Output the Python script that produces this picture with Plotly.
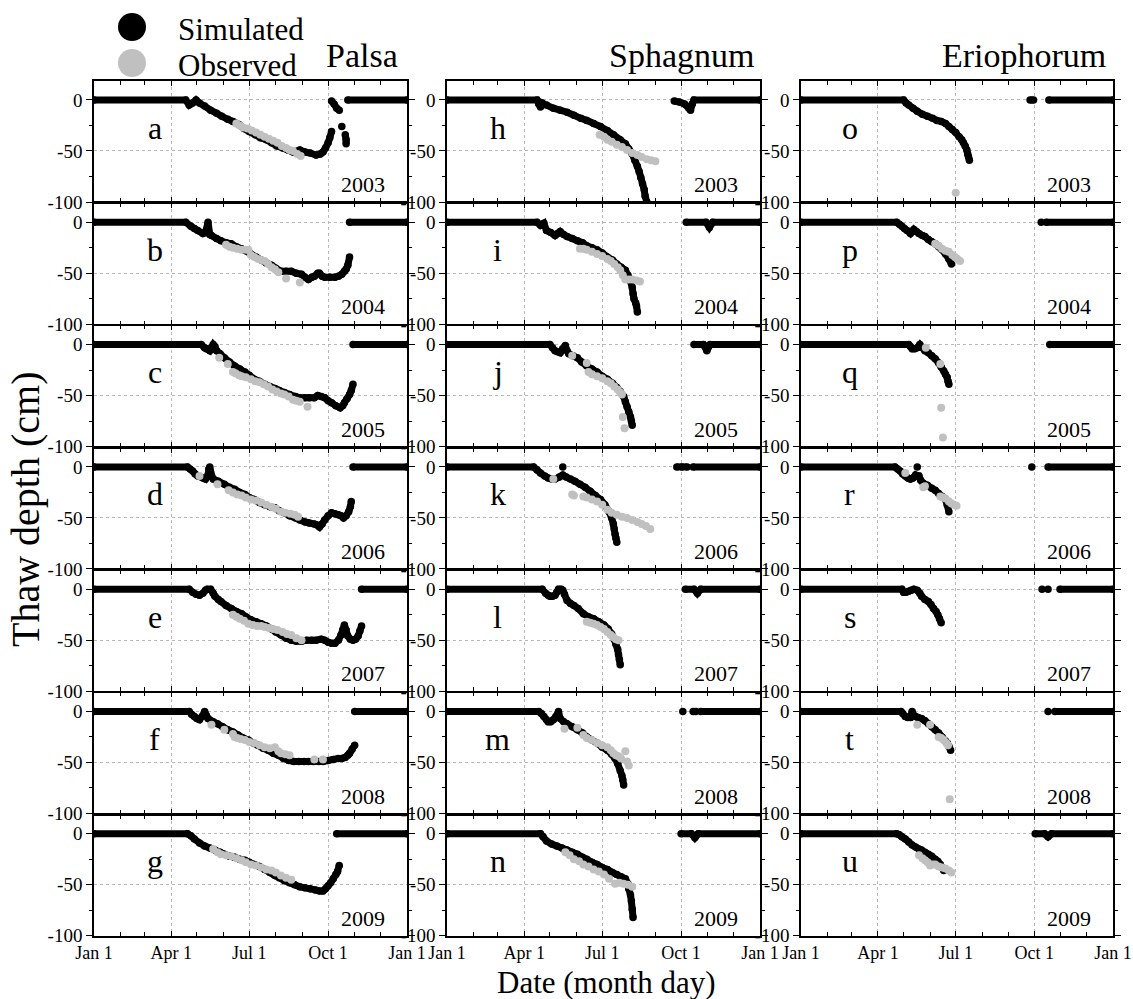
import plotly.graph_objects as go

# ---------------- data (day of year, thaw depth in cm); None = break ----------------
COLUMNS = ["Palsa", "Sphagnum", "Eriophorum"]
YEARS = ["2003", "2004", "2005", "2006", "2007", "2008", "2009"]
LETTERS = [["a", "b", "c", "d", "e", "f", "g"],
           ["h", "i", "j", "k", "l", "m", "n"],
           ["o", "p", "q", "r", "s", "t", "u"]]
XTICK_DAYS = [1, 91, 182, 274, 366]
XTICK_LABELS = ["Jan 1", "Apr 1", "Jul 1", "Oct 1", "Jan 1"]
XMINOR_DAYS = [32, 60, 121, 152, 213, 244, 305, 335]
YTICK_VALS = [-100, -50, 0]
YTICK_LABELS = ["-100", "-50", "0"]

# Palsa
sim_a = [(1, 0), (108, 0), (112, -5), (116, -3), (120, 0), (124, -3), (130, -6), (137, -10), (144, -13), (150, -16),
         (157, -19), (163, -21), (170, -24), (176, -28), (182, -31), (189, -34), (195, -37), (202, -39), (208, -42),
         (214, -45), (221, -47), (227, -49), (233, -51), (241, -49), (247, -51), (253, -52), (260, -54), (265, -53),
         (268, -51), (271, -47), (274, -42), (276, -37), (278, -31), None, (278, -1), (281, -4), (284, -8), (287, -10),
         None, (290, -26), None, (294, -34), (295, -39), (295, -43), None, (297, 0), (366, 0)]
obs_a = [(167, -23), (171, -25), (175, -27), (180, -28), (185, -30), (190, -32), (195, -34), (200, -36), (205, -38),
         (210, -40), (215, -42), (220, -45), (225, -47), (229, -49), (233, -50), (238, -53), (242, -55)]
sim_b = [(1, 0), (108, 0), (114, -4), (118, -6), (122, -8), (128, -11), (131, -10), (134, 0), (136, -12), (138, -13),
         (144, -16), (149, -18), (155, -20), (161, -21), (167, -24), (173, -26), (178, -28), (184, -31), (190, -34),
         (196, -37), (202, -40), (208, -42), (213, -45), (219, -48), (225, -48), (231, -48), (237, -50), (243, -51),
         (247, -54), (251, -56), (255, -54), (258, -53), (262, -50), (264, -50), (267, -53), (270, -54), (276, -54),
         (282, -54), (286, -53), (290, -51), (293, -48), (295, -46), (297, -42), (299, -34), None, (299, 0), (366, 0)]
obs_b = [(155, -22), (159, -24), (163, -25), (168, -26), (173, -27), (178, -27), (181, -27), (184, -32), (188, -34),
         (192, -36), (196, -37), (200, -38), (204, -41), (208, -44), (212, -46), (216, -49), (225, -55), (241, -59)]
sim_c = [(1, 0), (126, 0), (130, -3), (132, -4), (136, -6), (138, -3), (140, 0), (142, -2), (144, -6), (148, -9),
         (153, -13), (159, -17), (165, -21), (171, -24), (177, -27), (182, -30), (188, -34), (194, -36), (200, -39),
         (206, -41), (212, -43), (217, -45), (223, -47), (229, -49), (236, -51), (241, -52), (247, -52), (252, -52),
         (258, -52), (262, -50), (266, -51), (270, -52), (274, -55), (278, -57), (283, -60), (288, -62), (291, -60),
         (293, -57), (296, -53), (299, -49), (301, -45), (303, -39), None, (303, 0), (366, 0)]
obs_c = [(147, -13), (157, -19), (163, -27), (166, -28), (170, -30), (173, -31), (178, -32), (184, -34), (189, -36),
         (194, -37), (199, -39), (204, -41), (209, -44), (214, -46), (219, -48), (223, -49), (228, -51), (233, -54),
         (237, -55), (241, -56), (250, -61)]
sim_d = [(1, 0), (110, 0), (113, -2), (116, -4), (119, -7), (122, -9), (128, -11), (131, -12), (134, -8), (135, -2),
         (136, 0), (137, -5), (140, -12), (146, -14), (153, -17), (159, -20), (165, -22), (171, -25), (177, -27),
         (182, -30), (188, -32), (194, -35), (200, -37), (206, -39), (212, -40), (217, -43), (223, -45), (229, -48),
         (236, -50), (241, -52), (247, -54), (252, -55), (258, -56), (261, -57), (264, -59), (267, -56), (270, -52),
         (274, -48), (278, -45), (282, -46), (286, -47), (289, -48), (292, -50), (295, -48), (298, -44), (300, -39),
         (301, -34), None, (303, 0), (366, 0)]
obs_d = [(124, -9), (145, -17), (158, -23), (163, -25), (168, -27), (173, -28), (178, -30), (184, -32), (190, -33),
         (196, -35), (202, -37), (208, -39), (213, -41), (219, -44), (224, -45), (230, -46), (235, -47), (239, -49)]
sim_e = [(1, 0), (112, 0), (116, -3), (120, -5), (124, -6), (128, -4), (131, -1), (133, 0), (137, 0), (140, -4),
         (142, -7), (146, -10), (149, -12), (155, -16), (161, -19), (167, -22), (173, -24), (178, -27), (184, -30),
         (190, -32), (196, -34), (202, -36), (208, -39), (213, -42), (219, -45), (225, -48), (231, -50), (237, -51),
         (243, -51), (249, -50), (255, -50), (260, -50), (266, -49), (270, -50), (274, -52), (278, -53), (282, -53),
         (286, -50), (289, -45), (291, -40), (293, -35), (295, -40), (297, -46), (300, -49), (303, -50), (306, -49),
         (309, -46), (311, -41), (313, -36), None, (313, 0), (366, 0)]
obs_e = [(163, -25), (167, -27), (171, -29), (176, -31), (181, -34), (186, -35), (191, -36), (196, -36), (200, -37),
         (205, -38), (210, -39), (215, -40), (221, -42), (226, -44), (231, -45), (237, -48), (243, -50)]
sim_f = [(1, 0), (112, 0), (115, -3), (118, -5), (121, -7), (124, -8), (127, -5), (130, 0), (132, -4), (134, -7),
         (140, -10), (145, -12), (151, -15), (157, -18), (163, -20), (169, -23), (175, -26), (181, -28), (187, -31),
         (192, -33), (198, -36), (204, -38), (210, -41), (216, -43), (222, -46), (228, -48), (234, -49), (240, -49),
         (246, -49), (251, -49), (257, -49), (263, -49), (268, -49), (274, -48), (280, -47), (286, -46), (290, -46),
         (294, -45), (297, -43), (299, -41), (302, -37), (305, -33), None, (305, 0), (366, 0)]
obs_f = [(138, -13), (153, -18), (163, -22), (165, -25), (168, -26), (172, -27), (177, -28), (182, -30), (188, -31),
         (194, -33), (200, -35), (206, -36), (212, -35), (216, -39), (219, -41), (224, -42), (229, -43), (258, -47),
         (268, -47)]
sim_g = [(1, 0), (110, 0), (114, -2), (118, -5), (124, -9), (130, -12), (136, -14), (142, -16), (148, -18), (153, -20),
         (159, -22), (165, -23), (171, -25), (177, -26), (182, -28), (188, -30), (194, -32), (200, -35), (206, -38),
         (212, -41), (217, -43), (223, -46), (229, -48), (235, -50), (241, -52), (247, -53), (253, -54), (259, -55),
         (264, -56), (268, -56), (271, -54), (274, -51), (277, -48), (280, -44), (283, -40), (285, -37), (287, -31),
         None, (284, 0), (366, 0)]
obs_g = [(140, -15), (145, -18), (149, -20), (155, -21), (161, -22), (167, -24), (173, -26), (178, -28), (184, -30),
         (190, -31), (196, -33), (202, -35), (208, -36), (213, -38), (219, -41), (225, -43), (231, -45)]

# Sphagnum
sim_h = [(1, 0), (106, 0), (108, -4), (110, -7), (112, -3), (117, -5), (125, -8), (133, -10), (141, -12), (149, -15),
         (157, -18), (164, -20), (172, -23), (180, -26), (188, -30), (195, -34), (203, -39), (209, -43), (213, -48),
         (217, -53), (220, -59), (223, -65), (225, -70), (227, -76), (229, -82), (231, -88), (232, -94), (234, -100),
         None, (266, -1), (272, -2), (278, -4), (283, -8), (285, -10), (287, -4), (289, 0), (366, 0)]
obs_h = [(179, -34), (184, -36), (188, -39), (193, -41), (199, -44), (205, -46), (211, -49), (217, -52), (223, -54),
         (228, -56), (234, -58), (239, -59), (244, -60)]
sim_i = [(1, 0), (106, 0), (110, -3), (114, -1), (117, -8), (122, -10), (127, -13), (130, -11), (133, -9), (137, -12),
         (141, -14), (147, -16), (153, -18), (159, -20), (164, -23), (170, -25), (176, -27), (182, -30), (188, -34),
         (194, -37), (199, -41), (204, -44), (209, -47), (212, -52), (214, -56), (216, -60), (217, -64), (218, -70),
         (219, -75), (221, -79), (222, -82), (223, -88), None, (280, 0), (303, 0), (307, -5), (311, 0), (366, 0)]
obs_i = [(156, -26), (160, -26), (164, -27), (170, -29), (176, -31), (182, -33), (188, -36), (192, -38), (196, -41),
         (200, -44), (203, -47), (206, -52), (209, -56), (213, -56), (217, -56), (222, -57), (226, -58)]
sim_j = [(1, 0), (121, 0), (124, -3), (127, -6), (130, -7), (133, -8), (136, -4), (139, -1), (141, -6), (143, -9),
         (148, -11), (153, -13), (158, -17), (164, -21), (170, -24), (176, -27), (182, -31), (188, -34), (194, -38),
         (199, -42), (203, -46), (207, -51), (209, -56), (211, -61), (213, -66), (215, -71), (216, -75), (217, -79),
         None, (289, 0), (300, 0), (304, -6), (308, 0), (366, 0)]
obs_j = [(147, -11), (164, -18), (166, -27), (170, -29), (176, -31), (182, -33), (188, -36), (192, -38), (196, -41),
         (200, -44), (203, -47), (205, -49), (206, -71), (208, -82)]
sim_k = [(1, 0), (102, 0), (106, -3), (110, -6), (115, -9), (119, -11), (123, -12), (127, -12), (132, -10), (136, -8),
         (140, -10), (145, -12), (150, -14), (156, -17), (162, -20), (168, -24), (174, -28), (180, -32), (185, -37),
         (190, -44), (193, -50), (195, -56), (196, -61), (197, -66), (198, -70), (199, -74), None, (136, 0), None,
         (269, 0), (275, 0), (281, 0), None, (288, 0), (366, 0)]
obs_k = [(125, -12), (147, -27), (149, -28), (160, -29), (164, -30), (170, -32), (176, -34), (182, -37), (188, -42),
         (193, -45), (199, -47), (205, -49), (211, -50), (217, -52), (223, -54), (228, -56), (233, -58), (238, -61)]
sim_l = [(1, 0), (112, 0), (116, -4), (119, -6), (121, -7), (124, -7), (127, -6), (129, -3), (131, 0), (134, 0),
         (136, -1), (138, -5), (141, -11), (145, -14), (149, -16), (154, -19), (160, -24), (166, -27), (172, -29),
         (178, -32), (184, -35), (189, -39), (193, -44), (196, -49), (198, -54), (200, -59), (201, -64), (202, -69),
         (203, -74), None, (279, 0), (289, 0), (293, -4), (297, 0), (366, 0)]
obs_l = [(164, -32), (168, -33), (172, -34), (176, -35), (180, -37), (184, -39), (188, -42), (192, -45), (195, -47),
         (198, -49), (201, -50)]
sim_m = [(1, 0), (108, 0), (111, -2), (114, -5), (117, -8), (119, -10), (122, -10), (125, -8), (128, -5), (131, 0),
         (133, -7), (137, -10), (141, -12), (147, -15), (153, -18), (159, -21), (164, -25), (170, -28), (176, -31),
         (182, -35), (188, -38), (193, -42), (197, -46), (200, -51), (203, -58), (205, -63), (206, -67), (207, -72),
         None, (276, 0), None, (288, 0), (291, 0), None, (297, 0), (366, 0)]
obs_m = [(138, -17), (153, -16), (160, -23), (164, -26), (170, -28), (176, -31), (182, -33), (188, -35), (192, -38),
         (195, -41), (198, -43), (201, -44), (204, -46), (209, -39), (211, -49), (213, -53)]
sim_n = [(1, 0), (110, 0), (113, -3), (117, -7), (123, -10), (129, -12), (135, -14), (141, -16), (147, -18),
         (153, -20), (159, -23), (164, -25), (170, -28), (176, -30), (182, -33), (188, -35), (194, -38), (199, -40),
         (204, -42), (209, -44), (212, -49), (213, -54), (215, -60), (216, -66), (217, -74), (218, -82), None,
         (274, 0), (286, 0), (290, -4), (294, 0), (366, 0)]
obs_n = [(139, -18), (144, -21), (149, -25), (155, -27), (160, -30), (166, -32), (172, -35), (178, -37), (184, -40),
         (190, -44), (197, -49), (202, -48), (207, -49), (212, -50), (217, -52)]

# Eriophorum
sim_o = [(1, 0), (121, 0), (124, -3), (127, -5), (132, -8), (137, -11), (143, -14), (149, -16), (155, -18), (160, -20),
         (165, -21), (170, -23), (174, -26), (178, -29), (182, -32), (186, -36), (189, -39), (191, -42), (193, -45),
         (195, -49), (196, -53), (197, -56), (198, -59), None, (269, 0), (273, 0), None, (291, 0), (366, 0)]
obs_o = [(182, -91)]
sim_p = [(1, 0), (113, 0), (116, -2), (119, -4), (122, -6), (125, -8), (129, -11), (131, -9), (133, -7), (136, -9),
         (139, -11), (143, -13), (146, -14), (150, -17), (154, -19), (158, -21), (162, -24), (166, -27), (170, -31),
         (174, -36), (177, -41), None, (282, 0), None, (288, 0), (366, 0)]
obs_p = [(158, -21), (162, -23), (166, -26), (170, -28), (174, -29), (178, -32), (181, -34), (184, -36), (187, -38)]
sim_q = [(1, 0), (127, 0), (129, -2), (131, -4), (134, -4), (137, -3), (140, 0), (143, -3), (146, -6), (150, -8),
         (154, -11), (158, -14), (162, -18), (165, -22), (168, -26), (170, -29), (172, -32), (173, -36), (174, -39),
         None, (292, 0), (366, 0)]
obs_q = [(147, -3), (164, -19), (165, -62), (167, -91)]
sim_r = [(1, 0), (111, 0), (114, -2), (117, -4), (120, -7), (123, -9), (126, -11), (129, -12), (132, -11), (135, -8),
         (137, -9), (139, -9), (141, -13), (144, -16), (149, -18), (154, -21), (158, -23), (162, -26), (166, -29),
         (170, -32), (172, -37), (174, -44), None, (137, 0), None, (271, 0), None, (290, 0), (366, 0)]
obs_r = [(123, -6), (144, -20), (146, -19), (164, -29), (167, -30), (170, -31), (174, -34), (177, -36), (180, -37),
         (183, -38)]
sim_s = [(1, 0), (119, 0), (121, -3), (124, -3), (127, -2), (130, -1), (133, 0), (137, -1), (140, -4), (142, -7),
         (146, -10), (150, -12), (153, -15), (156, -19), (159, -22), (161, -25), (163, -29), (165, -33), None,
         (283, 0), None, (290, 0), None, (304, 0), (366, 0)]
obs_s = []
sim_t = [(1, 0), (118, 0), (120, -2), (123, -5), (126, -6), (129, -6), (131, 0), (133, -4), (135, -5), (138, -6),
         (142, -7), (146, -9), (150, -12), (154, -15), (158, -18), (162, -21), (166, -25), (170, -29), (172, -31),
         (174, -34), (176, -38), None, (290, 0), None, (298, 0), (366, 0)]
obs_t = [(137, -13), (152, -13), (162, -25), (165, -26), (168, -28), (171, -31), (173, -33), (175, -86)]
sim_u = [(1, 0), (113, 0), (116, -1), (119, -3), (123, -5), (127, -8), (131, -11), (135, -13), (139, -15), (142, -16),
         (146, -18), (150, -20), (154, -22), (158, -25), (161, -27), (164, -30), (166, -33), (168, -36), None,
         (275, 0), (286, 0), (290, -3), (294, 0), (366, 0)]
obs_u = [(139, -21), (143, -24), (146, -26), (149, -28), (152, -31), (155, -30), (158, -30), (162, -32), (166, -33),
         (170, -34), (174, -36), (177, -38)]

SIM = [[sim_a, sim_b, sim_c, sim_d, sim_e, sim_f, sim_g],
       [sim_h, sim_i, sim_j, sim_k, sim_l, sim_m, sim_n],
       [sim_o, sim_p, sim_q, sim_r, sim_s, sim_t, sim_u]]
OBS = [[obs_a, obs_b, obs_c, obs_d, obs_e, obs_f, obs_g],
       [obs_h, obs_i, obs_j, obs_k, obs_l, obs_m, obs_n],
       [obs_o, obs_p, obs_q, obs_r, obs_s, obs_t, obs_u]]

# ---------------- layout ----------------
W, H = 1133, 999
FONT = "Liberation Serif"
COL_PX = [(94, 407), (447, 760), (801, 1113)]
ROW_TOP0, ROW_STEP, PANEL_H = 81, 122.3, 121
YRANGE = [-100, 18.6]
SIM_COLOR, OBS_COLOR = "black", "#c0c0c0"
LETTER_X = [72, 60, 58]


def xs(pts):
    return [p[0] if p is not None else None for p in pts]


def ys(pts):
    return [p[1] if p is not None else None for p in pts]


fig = go.Figure()
layout = dict(width=W, height=H, margin=dict(l=0, r=0, t=0, b=0, autoexpand=False),
              template="none",
              paper_bgcolor="white", plot_bgcolor="rgba(0,0,0,0)",
              showlegend=False, font=dict(family=FONT, color="black"))
annotations = []

# legend (manual, large symbols) on its own small hidden axes in the top-left corner
LEGEND_LABELS = ["Simulated", "Observed"]
layout["xaxis22"] = dict(domain=[0, 0.3], range=[0, 0.3 * W], visible=False, anchor="y22",
                         fixedrange=True, automargin=False)
layout["yaxis22"] = dict(domain=[1 - 80 / H, 1], range=[80, 0], visible=False, anchor="x22",
                         fixedrange=True, automargin=False)
fig.add_trace(go.Scatter(x=[132, 132], y=[27, 63], mode="markers", xaxis="x22", yaxis="y22",
                         marker=dict(color=[SIM_COLOR, OBS_COLOR], size=28, line=dict(width=0)),
                         cliponaxis=False, hoverinfo="skip"))
for i, lab in enumerate(LEGEND_LABELS):
    annotations.append(dict(x=176 / W, y=1 - [29, 66][i] / H, xref="paper", yref="paper", text=lab,
                            showarrow=False, xanchor="left", yanchor="middle",
                            font=dict(family=FONT, size=31, color="black")))

for c in range(3):
    for r in range(7):
        k = r * 3 + c + 1
        sx = "" if k == 1 else str(k)
        xa, ya = "x" + sx, "y" + sx
        sim, obs = SIM[c][r], OBS[c][r]
        fig.add_trace(go.Scatter(x=xs(sim), y=ys(sim), mode="lines+markers", xaxis=xa, yaxis=ya,
                                 line=dict(color=SIM_COLOR, width=7, simplify=False), connectgaps=False,
                                 marker=dict(color=SIM_COLOR, size=7.5, line=dict(width=0)),
                                 cliponaxis=True, name="Simulated", hoverinfo="x+y"))
        if obs:
            fig.add_trace(go.Scatter(x=xs(obs), y=ys(obs), mode="markers", xaxis=xa, yaxis=ya,
                                     marker=dict(color=OBS_COLOR, size=8, line=dict(width=0)),
                                     name="Observed", hoverinfo="x+y"))
        x0, x1 = COL_PX[c]
        top = ROW_TOP0 + r * ROW_STEP
        bot = top + PANEL_H
        layout["xaxis" + sx] = dict(
            domain=[x0 / W, x1 / W], range=[1, 366], anchor=ya, tickmode="array", automargin=False,
            tickvals=XTICK_DAYS, ticktext=XTICK_LABELS, showticklabels=(r == 6),
            ticklabeloverflow="allow",
            ticks="inside", ticklen=5, tickwidth=1.2, tickcolor="black", mirror="ticks",
            showline=True, linecolor="black", linewidth=1.5, zeroline=False,
            showgrid=True, gridcolor="#b8b8b8", griddash="dot", gridwidth=1,
            minor=dict(tickmode="array", tickvals=XMINOR_DAYS, ticks="inside", ticklen=4,
                       tickwidth=1, tickcolor="black", showgrid=False),
            tickfont=dict(family=FONT, size=18, color="black"), fixedrange=True)
        layout["yaxis" + sx] = dict(
            domain=[1 - bot / H, 1 - top / H], range=YRANGE, anchor=xa, tickmode="array", automargin=False,
            tickvals=YTICK_VALS, ticktext=YTICK_LABELS, ticks="outside", ticklen=6, tickwidth=1.2,
            ticklabeloverflow="allow",
            tickcolor="black", mirror="ticks", showline=True, linecolor="black", linewidth=1.5,
            zeroline=False, showgrid=True, gridcolor="#b8b8b8", griddash="dot", gridwidth=1,
            minor=dict(tickmode="array", tickvals=[-75, -25], ticks="outside", ticklen=3,
                       tickwidth=1, tickcolor="black", showgrid=False),
            tickfont=dict(family=FONT, size=19, color="black"), fixedrange=True)
        annotations.append(dict(x=LETTER_X[c], y=-27, xref=xa, yref=ya, text=LETTERS[c][r],
                                showarrow=False, xanchor="center", yanchor="middle",
                                font=dict(family=FONT, size=32, color="black")))
        annotations.append(dict(x=343, y=-83, xref=xa, yref=ya, text=YEARS[r],
                                showarrow=False, xanchor="right", yanchor="middle",
                                font=dict(family=FONT, size=22, color="black")))

# column titles
for c, name in enumerate(COLUMNS):
    right = [400, 756, 1108][c]
    annotations.append(dict(x=right / W, y=1 - 56 / H, xref="paper", yref="paper", text=name,
                            showarrow=False, xanchor="right", yanchor="middle",
                            font=dict(family=FONT, size=34, color="black")))

# axis titles
annotations.append(dict(x=606 / W, y=1 - 982 / H, xref="paper", yref="paper", text="Date (month day)",
                        showarrow=False, xanchor="center", yanchor="middle",
                        font=dict(family=FONT, size=31, color="black")))
annotations.append(dict(x=25 / W, y=1 - 510 / H, xref="paper", yref="paper", text="Thaw depth (cm)",
                        showarrow=False, xanchor="center", yanchor="middle", textangle=-90,
                        font=dict(family=FONT, size=40, color="black")))

layout["annotations"] = annotations
fig.update_layout(**layout)
fig.write_html("out.html")
